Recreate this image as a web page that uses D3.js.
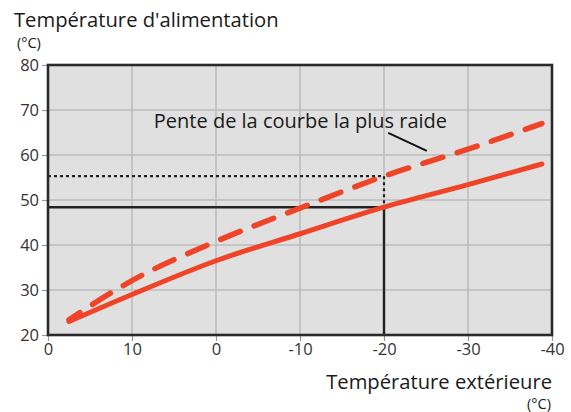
<!DOCTYPE html>
<html>
<head>
<meta charset="utf-8">
<script src="https://cdn.jsdelivr.net/npm/d3@7"></script>
<style>
  html, body { margin: 0; padding: 0; background: #fff; }
  svg { display: block; font-family: "Open Sans", "Noto Sans", sans-serif; }
</style>
</head>
<body>
<svg id="chart" width="571" height="412"></svg>
<script>
// Outdoor temperature (°C) and supply temperature (°C) for two heating curves
const outdoorTemps = [17.5, 10, 0, -10, -20, -30, -38.8];
const supplyNormal = [23.0, 29.0, 36.5, 42.5, 48.4, 53.4, 58.0];
const supplySteep  = [23.4, 32.1, 40.8, 48.2, 55.3, 61.3, 67.0];

// Axis ticks and their printed labels
const xTickValues = [20, 10, 0, -10, -20, -30, -40];
const xTickLabels = ["0", "10", "0", "-10", "-20", "-30", "-40"];
const yTickValues = [20, 30, 40, 50, 60, 70, 80];

// Reading guides at -20 °C outdoor
const guideOutdoor = -20;
const guideNormal = 48.4;
const guideSteep = 55.3;

// Annotation: text anchor and leader line (data units)
const noteText = "Pente de la courbe la plus raide";
const notePos = [7.4, 66.0];
const noteLeader = [[-20.5, 64.9], [-25.1, 60.9]];

const svg = d3.select("#chart");
const plotLeft = 48, plotRight = 552, plotTop = 65, plotBottom = 335;

const x = d3.scaleLinear().domain([20, -40]).range([plotLeft, plotRight]);
const y = d3.scaleLinear().domain([20, 80]).range([plotBottom, plotTop]);

// Plot background
svg.append("rect")
  .attr("x", plotLeft).attr("y", plotTop)
  .attr("width", plotRight - plotLeft).attr("height", plotBottom - plotTop)
  .attr("fill", "#e0e0e0");

// Grid lines
const grid = svg.append("g").attr("stroke", "#bdbdbd").attr("stroke-width", 1.6);
grid.selectAll("line.v").data(xTickValues.slice(1, -1)).join("line")
  .attr("class", "v")
  .attr("x1", d => x(d)).attr("x2", d => x(d))
  .attr("y1", plotTop).attr("y2", plotBottom);
grid.selectAll("line.h").data(yTickValues.slice(1, -1)).join("line")
  .attr("class", "h")
  .attr("x1", plotLeft).attr("x2", plotRight)
  .attr("y1", d => y(d)).attr("y2", d => y(d));

// Axes
const yAxis = d3.axisLeft(y).tickValues(yTickValues).tickSize(6).tickPadding(3);
const xAxis = d3.axisBottom(x).tickValues(xTickValues).tickSize(6).tickPadding(2)
  .tickFormat((d, i) => xTickLabels[i]);

const gy = svg.append("g").attr("transform", `translate(${plotLeft},0)`).call(yAxis);
const gx = svg.append("g").attr("transform", `translate(0,${plotBottom})`).call(xAxis);
[gx, gy].forEach(g => {
  g.select(".domain").remove();
  g.selectAll(".tick line").attr("stroke", "#999").attr("stroke-width", 1.2);
  g.selectAll(".tick text")
    .attr("fill", "#333")
    .style("font-size", "16.5px")
    .style("font-family", "'Open Sans', 'Noto Sans', sans-serif");
});

// Reading guides
svg.append("path")
  .attr("d", `M${plotLeft},${y(guideSteep)}H${x(guideOutdoor)}V${y(guideNormal)}`)
  .attr("fill", "none").attr("stroke", "#222").attr("stroke-width", 2.2)
  .attr("stroke-dasharray", "3,3");
svg.append("path")
  .attr("d", `M${plotLeft},${y(guideNormal)}H${x(guideOutdoor)}V${plotBottom}`)
  .attr("fill", "none").attr("stroke", "#222").attr("stroke-width", 2.4);

// Heating curves
const line = d3.line()
  .x((d, i) => x(outdoorTemps[i]))
  .y(d => y(d))
  .curve(d3.curveMonotoneX);

svg.append("path")
  .attr("d", line(supplyNormal))
  .attr("fill", "none").attr("stroke", "#f04428")
  .attr("stroke-width", 5).attr("stroke-linecap", "round");

svg.append("path")
  .attr("d", line(supplySteep))
  .attr("fill", "none").attr("stroke", "#f04428")
  .attr("stroke-width", 5.5).attr("stroke-linecap", "round")
  .attr("stroke-dasharray", "21,15")
  .attr("stroke-dashoffset", 8);

// Plot frame
svg.append("rect")
  .attr("x", plotLeft).attr("y", plotTop)
  .attr("width", plotRight - plotLeft).attr("height", plotBottom - plotTop)
  .attr("fill", "none").attr("stroke", "#2a2a2a").attr("stroke-width", 2.6);

// Annotation
svg.append("text")
  .attr("x", x(notePos[0])).attr("y", y(notePos[1]))
  .attr("fill", "#1a1a1a").style("font-size", "20px")
  .text(noteText);
svg.append("line")
  .attr("x1", x(noteLeader[0][0])).attr("y1", y(noteLeader[0][1]))
  .attr("x2", x(noteLeader[1][0])).attr("y2", y(noteLeader[1][1]))
  .attr("stroke", "#111").attr("stroke-width", 2);

// Axis titles
svg.append("text").attr("x", 14).attr("y", 27)
  .attr("fill", "#1a1a1a").style("font-size", "20.2px")
  .text("Température d'alimentation");
svg.append("text").attr("x", 17).attr("y", 48)
  .attr("fill", "#1a1a1a").style("font-size", "14.5px")
  .text("(°C)");
svg.append("text").attr("x", 552).attr("y", 389)
  .attr("text-anchor", "end")
  .attr("fill", "#1a1a1a").style("font-size", "20.2px")
  .text("Température extérieure");
svg.append("text").attr("x", 551).attr("y", 409)
  .attr("text-anchor", "end")
  .attr("fill", "#1a1a1a").style("font-size", "14.5px")
  .text("(°C)");
</script>
</body>
</html>
